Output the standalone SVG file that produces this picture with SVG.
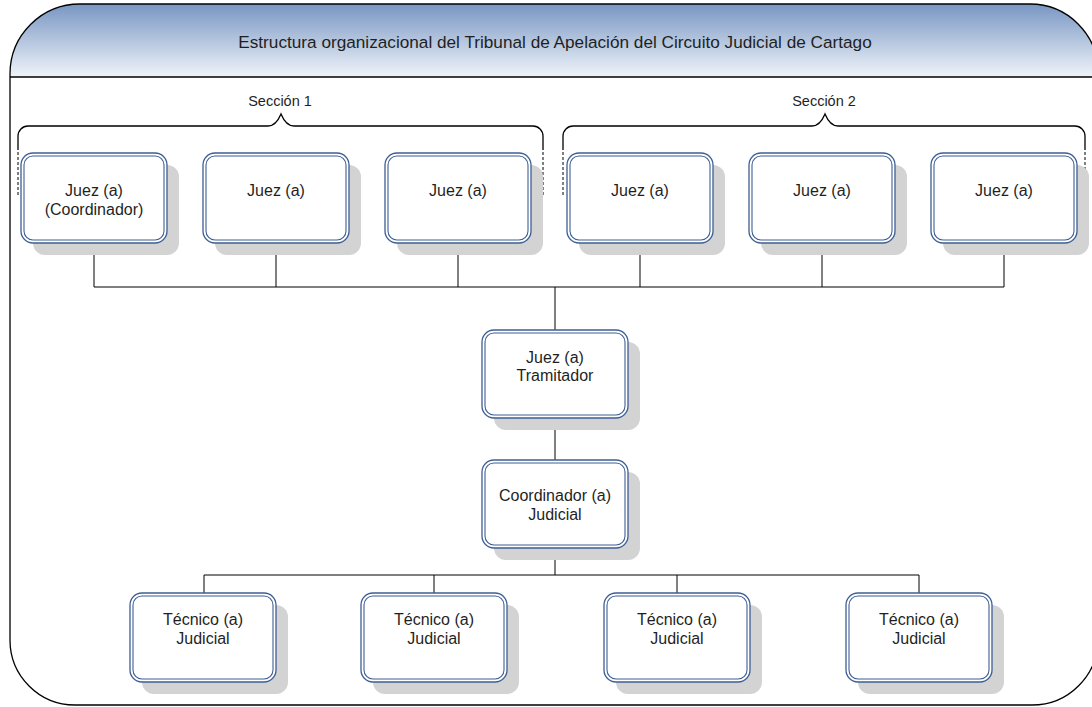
<svg xmlns="http://www.w3.org/2000/svg" width="1092" height="707" viewBox="0 0 1092 707">
<defs>
<linearGradient id="hdr" x1="0" y1="0" x2="0" y2="1">
<stop offset="0" stop-color="#7896c3"/>
<stop offset="1" stop-color="#f0f4f9"/>
</linearGradient>
<style>
text{font-family:"Liberation Sans",Arial,sans-serif;font-size:16px;fill:#1f1f1f;text-anchor:middle}
.title{font-size:17.2px}
.sec{font-size:14.5px}
.shadow{fill:#d3d3d3}
.outer{fill:#fff;stroke:#3e5f94;stroke-width:1.3}
.inner{fill:none;stroke:#3e5f94;stroke-width:1.1}
.conn{fill:none;stroke:#000;stroke-width:1}
.brace{fill:none;stroke:#000;stroke-width:1.3}
.dash{fill:none;stroke:#000;stroke-width:1;stroke-dasharray:3,2}
</style>
</defs>
<rect width="1092" height="707" fill="#fff"/>
<g id="frame">
<path d="M10,77 V74 A70,70 0 0 1 80,4 H1030 A68,68 0 0 1 1098,72 V77 Z" fill="url(#hdr)"/>
<path d="M10,74 A70,70 0 0 1 80,4 H1030 A68,68 0 0 1 1098,72 V639 A66,66 0 0 1 1032,705 H75 A65,65 0 0 1 10,640 Z" fill="none" stroke="#000" stroke-width="1.3"/>
<line x1="10" y1="77" x2="1098" y2="77" stroke="#000" stroke-width="1.3"/>
<text class="title" x="555" y="48">Estructura organizacional del Tribunal de Apelación del Circuito Judicial de Cartago</text>
</g>
<g id="seccion1">
<text class="sec" x="280" y="106">Sección 1</text>
<path class="brace" d="M18,150 V136 A10,10 0 0 1 28,126 H268 Q276,126 281,114 Q286,126 294,126 H533 A10,10 0 0 1 543,136 V150"/>
<line class="dash" x1="18" y1="152" x2="18" y2="195"/>
<line class="dash" x1="543" y1="152" x2="543" y2="195"/>
</g>
<g id="seccion2">
<text class="sec" x="824" y="106">Sección 2</text>
<path class="brace" d="M563,150 V136 A10,10 0 0 1 573,126 H812 Q820,126 825,114 Q830,126 838,126 H1075 A10,10 0 0 1 1085,136 V150"/>
<line class="dash" x1="563" y1="152" x2="563" y2="195"/>
<line class="dash" x1="1085" y1="152" x2="1085" y2="195"/>
</g>
<g id="connectors">
<path class="conn" d="M94,243 V287 M276,243 V287 M458,243 V287 M640,243 V287 M822,243 V287 M1004,243 V287 M94,287 H1004 M555,287 V330"/>
<path class="conn" d="M555,418 V460"/>
<path class="conn" d="M555,548 V575 M204,575 H919 M204,575 V593 M434,575 V593 M677,575 V593 M919,575 V593"/>
</g>
<g id="juez1">
<rect class="shadow" x="33" y="165" width="146" height="90" rx="12"/>
<rect class="outer" x="21" y="153" width="146" height="90" rx="12"/>
<rect class="inner" x="24" y="156" width="140" height="84" rx="9"/>
<text x="94" y="196">Juez (a)</text>
<text x="94" y="215">(Coordinador)</text>
</g>
<g id="juez2">
<rect class="shadow" x="215" y="165" width="146" height="90" rx="12"/>
<rect class="outer" x="203" y="153" width="146" height="90" rx="12"/>
<rect class="inner" x="206" y="156" width="140" height="84" rx="9"/>
<text x="276" y="196">Juez (a)</text>
</g>
<g id="juez3">
<rect class="shadow" x="397" y="165" width="146" height="90" rx="12"/>
<rect class="outer" x="385" y="153" width="146" height="90" rx="12"/>
<rect class="inner" x="388" y="156" width="140" height="84" rx="9"/>
<text x="458" y="196">Juez (a)</text>
</g>
<g id="juez4">
<rect class="shadow" x="579" y="165" width="146" height="90" rx="12"/>
<rect class="outer" x="567" y="153" width="146" height="90" rx="12"/>
<rect class="inner" x="570" y="156" width="140" height="84" rx="9"/>
<text x="640" y="196">Juez (a)</text>
</g>
<g id="juez5">
<rect class="shadow" x="761" y="165" width="146" height="90" rx="12"/>
<rect class="outer" x="749" y="153" width="146" height="90" rx="12"/>
<rect class="inner" x="752" y="156" width="140" height="84" rx="9"/>
<text x="822" y="196">Juez (a)</text>
</g>
<g id="juez6">
<rect class="shadow" x="943" y="165" width="146" height="90" rx="12"/>
<rect class="outer" x="931" y="153" width="146" height="90" rx="12"/>
<rect class="inner" x="934" y="156" width="140" height="84" rx="9"/>
<text x="1004" y="196">Juez (a)</text>
</g>
<g id="tramitador">
<rect class="shadow" x="494" y="342" width="146" height="88" rx="12"/>
<rect class="outer" x="482" y="330" width="146" height="88" rx="12"/>
<rect class="inner" x="485" y="333" width="140" height="82" rx="9"/>
<text x="555" y="363">Juez (a)</text>
<text x="555" y="381">Tramitador</text>
</g>
<g id="coordinador">
<rect class="shadow" x="494" y="472" width="146" height="88" rx="12"/>
<rect class="outer" x="482" y="460" width="146" height="88" rx="12"/>
<rect class="inner" x="485" y="463" width="140" height="82" rx="9"/>
<text x="555" y="501">Coordinador (a)</text>
<text x="555" y="520">Judicial</text>
</g>
<g id="tecnico1">
<rect class="shadow" x="142" y="605" width="146" height="89" rx="12"/>
<rect class="outer" x="130" y="593" width="146" height="89" rx="12"/>
<rect class="inner" x="133" y="596" width="140" height="83" rx="9"/>
<text x="203" y="625">Técnico (a)</text>
<text x="203" y="644">Judicial</text>
</g>
<g id="tecnico2">
<rect class="shadow" x="373" y="605" width="146" height="89" rx="12"/>
<rect class="outer" x="361" y="593" width="146" height="89" rx="12"/>
<rect class="inner" x="364" y="596" width="140" height="83" rx="9"/>
<text x="434" y="625">Técnico (a)</text>
<text x="434" y="644">Judicial</text>
</g>
<g id="tecnico3">
<rect class="shadow" x="616" y="605" width="146" height="89" rx="12"/>
<rect class="outer" x="604" y="593" width="146" height="89" rx="12"/>
<rect class="inner" x="607" y="596" width="140" height="83" rx="9"/>
<text x="677" y="625">Técnico (a)</text>
<text x="677" y="644">Judicial</text>
</g>
<g id="tecnico4">
<rect class="shadow" x="858" y="605" width="146" height="89" rx="12"/>
<rect class="outer" x="846" y="593" width="146" height="89" rx="12"/>
<rect class="inner" x="849" y="596" width="140" height="83" rx="9"/>
<text x="919" y="625">Técnico (a)</text>
<text x="919" y="644">Judicial</text>
</g>
</svg>
